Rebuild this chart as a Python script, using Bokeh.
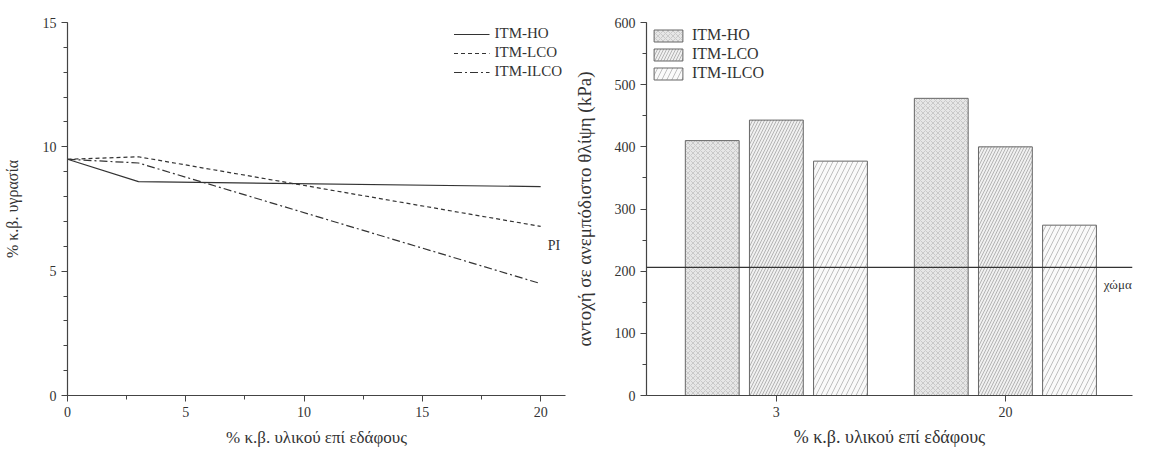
from bokeh.plotting import figure
from bokeh.layouts import row
from bokeh.models import (ColumnDataSource, Legend, LegendItem, Span, Range1d,
                          SingleIntervalTicker, FixedTicker, Label)
from bokeh.transform import dodge
from bokeh.embed import file_html
from bokeh.resources import INLINE

# ---------------- data ----------------
# left chart: moisture (% w/w) vs % material on soil
x_pct = [0, 3, 20]
moist_HO = [9.5, 8.6, 8.4]
moist_LCO = [9.5, 9.6, 6.8]
moist_ILCO = [9.5, 9.35, 4.5]

# right chart: unconfined compressive strength (kPa)
groups = ["3", "20"]
ucs_HO = [410, 478]
ucs_LCO = [443, 400]
ucs_ILCO = [377, 274]
soil_ucs = 206

series = ["ITM-HO", "ITM-LCO", "ITM-ILCO"]

FONT = "Liberation Serif"
AX = "#444444"
TXT = "#333333"


def style_axes(p):
    for ax in p.axis:
        ax.axis_line_color = AX
        ax.axis_line_width = 1.2
        ax.major_tick_line_color = AX
        ax.minor_tick_line_color = AX
        ax.major_tick_in = 0
        ax.major_tick_out = 6
        ax.minor_tick_in = 0
        ax.minor_tick_out = 4
        ax.major_label_standoff = 5
        ax.major_label_text_font = FONT
        ax.major_label_text_font_size = "14px"
        ax.major_label_text_color = TXT
        ax.axis_label_text_font = FONT
        ax.axis_label_text_font_style = "normal"
        ax.axis_label_text_color = TXT
    p.xgrid.visible = False
    p.ygrid.visible = False
    p.outline_line_color = None


H = 451
TOP = 22
BOTTOM = 56

# ---------------- left figure ----------------
p1 = figure(width=570, height=H, output_backend="svg", toolbar_location=None,
            x_range=Range1d(0, 21.05), y_range=Range1d(0, 15),
            min_border_left=58, min_border_right=5, min_border_top=TOP,
            min_border_bottom=BOTTOM)
p1.xaxis.ticker = SingleIntervalTicker(interval=5, num_minor_ticks=2)
p1.yaxis.ticker = SingleIntervalTicker(interval=5, num_minor_ticks=5)
p1.xaxis.axis_label = "% κ.β. υλικού επί εδάφους"
p1.yaxis.axis_label = "% κ.β. υγρασία"
style_axes(p1)
p1.xaxis.axis_label_text_font_size = "17px"
p1.yaxis.axis_label_text_font_size = "16px"
p1.yaxis.axis_label_standoff = 19
p1.xaxis.axis_label_standoff = 8

l1 = p1.line(x_pct, moist_HO, line_color="#333333", line_width=1.2)
l2 = p1.line(x_pct, moist_LCO, line_color="#333333", line_width=1.2, line_dash="4 3")
l3 = p1.line(x_pct, moist_ILCO, line_color="#333333", line_width=1.2, line_dash="8 3 2 3")

p1.add_layout(Label(x=20.3, y=6.05, text="PI", text_font=FONT, text_font_size="14px",
                    text_color=TXT, text_baseline="middle"))

leg1 = Legend(items=[LegendItem(label=series[0], renderers=[l1]),
                     LegendItem(label=series[1], renderers=[l2]),
                     LegendItem(label=series[2], renderers=[l3])],
              location="top_right", border_line_color=None,
              background_fill_alpha=0, padding=0, margin=3, spacing=2,
              glyph_width=36, glyph_height=16, label_height=16,
              label_standoff=5, label_text_font=FONT, label_text_font_size="15px",
              label_text_color=TXT)
p1.add_layout(leg1)

# ---------------- right figure ----------------
pos = list(range(1, len(groups) + 1))
src = ColumnDataSource(dict(pos=pos, HO=ucs_HO, LCO=ucs_LCO, ILCO=ucs_ILCO))

p2 = figure(width=564, height=H, output_backend="svg", toolbar_location=None,
            x_range=Range1d(0.433, 2.555), y_range=Range1d(0, 600),
            min_border_left=60, min_border_right=2, min_border_top=TOP,
            min_border_bottom=BOTTOM)
p2.xaxis.ticker = FixedTicker(ticks=pos)
p2.xaxis.major_label_overrides = {pp: g for pp, g in zip(pos, groups)}
p2.yaxis.ticker = SingleIntervalTicker(interval=100, num_minor_ticks=2)
p2.xaxis.axis_label = "% κ.β. υλικού επί εδάφους"
p2.yaxis.axis_label = "αντοχή σε ανεμπόδιστο θλίψη (kPa)"
style_axes(p2)
p2.xaxis.minor_tick_out = 0
p2.xaxis.axis_label_text_font_size = "18px"
p2.yaxis.axis_label_text_font_size = "19px"
p2.yaxis.axis_label_standoff = 17
p2.xaxis.axis_label_standoff = 7

bw = 0.235
off = 0.28
b1 = p2.vbar(x=dodge("pos", -off, range=p2.x_range), top="HO", width=bw, source=src,
             fill_color="#e6e6e6", line_color="#666666", line_width=1,
             hatch_pattern="x", hatch_color="#b5b5b5", hatch_scale=5, hatch_weight=0.6)
b2 = p2.vbar(x=dodge("pos", 0, range=p2.x_range), top="LCO", width=bw, source=src,
             fill_color="#f0f0f0", line_color="#666666", line_width=1,
             hatch_pattern="/", hatch_color="#9a9a9a", hatch_scale=6, hatch_weight=0.7)
b3 = p2.vbar(x=dodge("pos", off, range=p2.x_range), top="ILCO", width=bw, source=src,
             fill_color="#fafafa", line_color="#666666", line_width=1,
             hatch_pattern="/", hatch_color="#a5a5a5", hatch_scale=10, hatch_weight=0.7)

p2.add_layout(Span(location=soil_ucs, dimension="width", line_color="#333333",
                   line_width=1.3))
p2.add_layout(Label(x=2.43, y=soil_ucs - 28, text="χώμα", text_font=FONT,
                    text_font_size="13px", text_color=TXT, text_baseline="middle"))

leg2 = Legend(items=[LegendItem(label=series[0], renderers=[b1]),
                     LegendItem(label=series[1], renderers=[b2]),
                     LegendItem(label=series[2], renderers=[b3])],
              location="top_left", border_line_color=None,
              background_fill_alpha=0, padding=0, margin=4, spacing=1,
              glyph_width=36, glyph_height=15, label_height=16,
              label_standoff=6, label_text_font=FONT, label_text_font_size="16px",
              label_text_color=TXT)
p2.add_layout(leg2)

layout = row(p1, p2)
open("out.html", "w").write(file_html(layout, INLINE))
